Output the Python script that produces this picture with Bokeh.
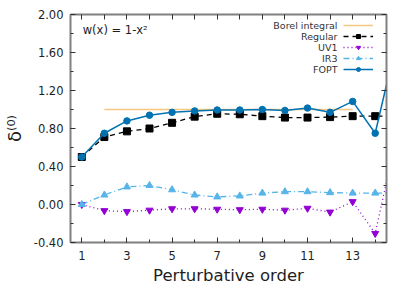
from bokeh.plotting import figure
from bokeh.models import (Range1d, LinearAxis, FixedTicker, Legend, LegendItem,
                          Label, CustomJSTickFormatter)
from bokeh.embed import file_html
from bokeh.resources import INLINE

# ---- data ----
orders = [1, 2, 3, 4, 5, 6, 7, 8, 9, 10, 11, 12, 13, 14, 15]
regular = [0.50, 0.71, 0.77, 0.80, 0.86, 0.925, 0.955, 0.95, 0.93, 0.915, 0.915, 0.92, 0.93, 0.93, 0.93]
uv1 = [0.00, -0.065, -0.075, -0.06, -0.045, -0.045, -0.05, -0.055, -0.05, -0.06, -0.04, -0.08, 0.03, -0.305, 0.78]
ir3 = [0.00, 0.10, 0.185, 0.20, 0.155, 0.10, 0.08, 0.09, 0.12, 0.135, 0.135, 0.125, 0.12, 0.12, 0.12]
fopt = [0.50, 0.75, 0.88, 0.94, 0.97, 0.985, 0.995, 0.995, 1.0, 0.99, 1.015, 0.97, 1.085, 0.75, 1.77]
borel_orders = [2, 13]
borel = [1.0, 1.0]

x_ticks = [1, 3, 5, 7, 9, 11, 13]
x_tick_labels = ["1", "3", "5", "7", "9", "11", "13"]
x_minor = [1, 2, 3, 4, 5, 6, 7, 8, 9, 10, 11, 12, 13, 14]
y_ticks = [-0.4, 0.0, 0.4, 0.8, 1.2, 1.6, 2.0]
y_tick_labels = ["-0.40", "0.00", "0.40", "0.80", "1.20", "1.60", "2.00"]
y_minor = [-0.4, -0.2, 0.0, 0.2, 0.4, 0.6, 0.8, 1.0, 1.2, 1.4, 1.6, 1.8, 2.0]
series_labels = ["Borel integral", "Regular", "UV1", "IR3", "FOPT"]

FONT = "DejaVu Sans"
AXIS_GRAY = "#808080"
TXT = "#1e1e1e"

p = figure(frame_width=316, frame_height=228,
           x_range=Range1d(0.5, 14.5), y_range=Range1d(-0.4, 2.0),
           output_backend="svg", toolbar_location=None,
           min_border_left=69, min_border_top=14, min_border_right=14,
           min_border_bottom=10)
p.xgrid.visible = False
p.ygrid.visible = False
p.outline_line_color = None
p.background_fill_color = "white"
p.border_fill_color = "white"


def style(ax, labels=True):
    ax.axis_line_color = AXIS_GRAY
    ax.axis_line_width = 2
    ax.major_tick_in = 5
    ax.major_tick_out = 0
    ax.minor_tick_in = 3
    ax.minor_tick_out = 0
    ax.major_tick_line_color = "#333333"
    ax.minor_tick_line_color = "#333333"
    ax.major_tick_line_width = 1
    ax.minor_tick_line_width = 1
    if labels:
        ax.major_label_text_font = FONT
        ax.major_label_text_font_size = "11.5px"
        ax.major_label_text_color = TXT
    else:
        ax.formatter = CustomJSTickFormatter(code="return ''")
        ax.major_label_text_font_size = "0px"
        ax.major_label_standoff = 0


xt = FixedTicker(ticks=x_ticks, minor_ticks=x_minor)
yt = FixedTicker(ticks=y_ticks, minor_ticks=y_minor)

xa = p.xaxis[0]
xa.ticker = xt
xa.major_label_overrides = {t: s for t, s in zip(x_ticks, x_tick_labels)}
style(xa)
xa.major_label_standoff = 8
xa.axis_label = "Perturbative order"
xa.axis_label_text_font = FONT
xa.axis_label_text_font_size = "16.5px"
xa.axis_label_text_font_style = "normal"
xa.axis_label_text_color = TXT
xa.axis_label_standoff = 3

ya = p.yaxis[0]
ya.ticker = yt
ya.major_label_overrides = {t: s for t, s in zip(y_ticks, y_tick_labels)}
style(ya)
ya.major_label_standoff = 7
ya.axis_label = "δ⁽⁰⁾"
ya.axis_label_text_font = FONT
ya.axis_label_text_font_size = "18px"
ya.axis_label_text_font_style = "normal"
ya.axis_label_text_color = TXT
ya.axis_label_standoff = 6

ra = LinearAxis(ticker=yt)
style(ra, labels=False)
p.add_layout(ra, "right")
ta = LinearAxis(ticker=FixedTicker(ticks=x_minor, minor_ticks=[]))
style(ta, labels=False)
p.add_layout(ta, "above")

# ---- series ----
r_borel = p.line(borel_orders, borel, line_color="#f5c882", line_width=1.5)

r_reg_l = p.line(orders, regular, line_color="black", line_width=1.3, line_dash="5 4")
r_reg_m = p.scatter(orders, regular, marker="square", size=7, fill_color="black", line_color="black")

r_uv_l = p.line(orders, uv1, line_color="#9400d3", line_width=1.3, line_dash="1 3")
r_uv_m = p.scatter(orders, uv1, marker="inverted_triangle", size=7, fill_color="#9400d3", line_color="#9400d3")

r_ir_l = p.line(orders, ir3, line_color="#56b4e9", line_width=1.3, line_dash="6 3 1 3")
r_ir_m = p.scatter(orders, ir3, marker="triangle", size=7, fill_color="#56b4e9", line_color="#56b4e9")

r_fo_l = p.line(orders, fopt, line_color="#0072b2", line_width=1.5)
r_fo_m = p.scatter(orders, fopt, marker="circle", size=6.5, fill_color="#0072b2", line_color="#0072b2")

# ---- legend: samples on the right, labels right-aligned to their left ----
groups = [[r_borel], [r_reg_l, r_reg_m], [r_uv_l, r_uv_m], [r_ir_l, r_ir_m], [r_fo_l, r_fo_m]]
legend = Legend(items=[LegendItem(label=" ", renderers=g) for g in groups],
                location=(273, 168), margin=0, padding=0, spacing=1,
                glyph_width=30, glyph_height=10, label_width=0, label_standoff=0,
                label_text_font_size="1px",
                background_fill_alpha=0, border_line_color=None)
p.add_layout(legend)

for i, name in enumerate(series_labels):
    p.add_layout(Label(x=267, y=217 - 11 * i, x_units="screen", y_units="screen",
                       text=name, text_align="right", text_baseline="middle",
                       text_font=FONT, text_font_size="9.5px", text_color="#333333"))

p.add_layout(Label(x=1.04, y=1.84, text="w(x) = 1-x²", text_baseline="middle",
                   text_font=FONT, text_font_size="11.5px", text_color=TXT))

open("out.html", "w").write(file_html(p, INLINE))
